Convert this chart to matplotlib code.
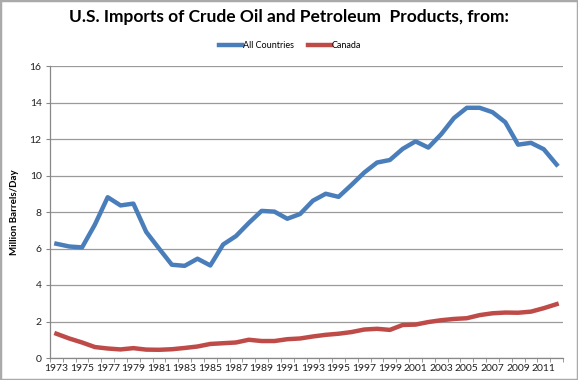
import matplotlib
matplotlib.use("Agg")
import matplotlib.pyplot as plt
from matplotlib.patches import Rectangle
import numpy as np

years = list(range(1973, 2013))
all_countries = [6.26, 6.11, 6.06, 7.31, 8.81, 8.36, 8.46, 6.91, 6.00, 5.11,
                 5.05, 5.44, 5.07, 6.22, 6.68, 7.40, 8.06, 8.02, 7.63, 7.89,
                 8.62, 9.00, 8.83, 9.48, 10.16, 10.71, 10.85, 11.46, 11.87, 11.53,
                 12.26, 13.15, 13.71, 13.71, 13.47, 12.92, 11.69, 11.79, 11.44, 10.60]
canada = [1.33, 1.07, 0.85, 0.60, 0.52, 0.47, 0.54, 0.46, 0.45, 0.48,
          0.55, 0.63, 0.77, 0.81, 0.85, 1.00, 0.93, 0.93, 1.03, 1.07,
          1.18, 1.27, 1.33, 1.42, 1.56, 1.60, 1.54, 1.81, 1.83, 1.97,
          2.07, 2.14, 2.18, 2.35, 2.45, 2.49, 2.48, 2.54, 2.73, 2.95]
yticks = [0, 2, 4, 6, 8, 10, 12, 14, 16]
title = "U.S. Imports of Crude Oil and Petroleum  Products, from:"
ylabel = "Million Barrels/Day"

plt.rcParams['font.family'] = ['Lato', 'DejaVu Sans']

fig = plt.figure(figsize=(5.78, 3.8), dpi=100)
W, H = 578, 380
ax = fig.add_axes([50 / W, 1 - 358 / H, (563 - 50) / W, (358 - 66) / H])

x = np.arange(len(years))
ax.plot(x, all_countries, color='#4A7EBB', lw=3.2, label='All Countries', solid_joinstyle='round')
ax.plot(x, canada, color='#BE4B48', lw=3.2, label='Canada', solid_joinstyle='round')

ax.set_xlim(-0.5, len(years) - 0.5)
ax.set_ylim(0, 16)
ax.set_yticks(yticks)
ax.set_yticklabels([str(v) for v in yticks], fontsize=7.5, color='#222222')
ax.set_xticks(x[::2])
ax.set_xticklabels([str(y) for y in years[::2]], fontsize=7.5, color='#222222')
ax.tick_params(axis='x', which='major', length=0, pad=4)
ax.set_xticks(np.arange(-0.5, len(years), 1), minor=True)
ax.tick_params(axis='x', which='minor', length=3, color='#888888')
ax.tick_params(axis='y', length=3, color='#888888', pad=3)
ax.grid(axis='y', color='#9a9a9a', lw=0.9)
ax.set_axisbelow(True)
for s in ['top', 'right']:
    ax.spines[s].set_visible(False)
for s in ['left', 'bottom']:
    ax.spines[s].set_color('#888888')
    ax.spines[s].set_linewidth(0.9)

ax.set_ylabel(ylabel, fontsize=7, fontweight='bold', labelpad=8)

fig.text(0.5, 1 - 17 / H, title, ha='center', va='center', fontsize=12.5, fontweight='bold')
leg = fig.legend(loc='center', bbox_to_anchor=(290 / W, 1 - 46 / H), ncol=2, frameon=False,
                 fontsize=6.5, handlelength=2.6, columnspacing=1.5, handletextpad=0.1)

fig.add_artist(Rectangle((0, 0), 1, 1, transform=fig.transFigure, fill=False,
                         edgecolor='#AAAAAA', lw=2.5))

fig.savefig('out.png', dpi=100)
